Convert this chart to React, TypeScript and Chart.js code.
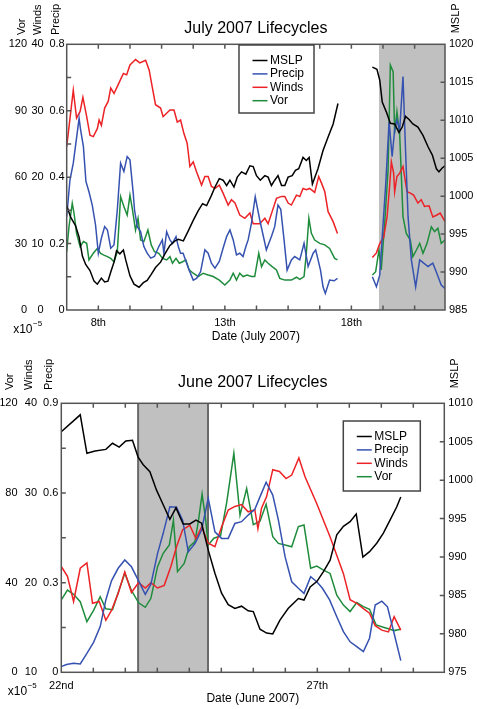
import React, { useEffect, useRef } from 'react';
import { Chart } from 'chart.js/auto';

const FONT = '"Liberation Sans", Arial, Helvetica, sans-serif';
const seriesNames = ['MSLP', 'Precip', 'Winds', 'Vor'];
const seriesColors = ['#000000', '#3652b0', '#ec2226', '#1f8c3c'];

// ---- July 2007 (x = day of month, null = no data) ----
const julMslpT = [6.75, 6.91, 7.1, 7.24, 7.37, 7.5, 7.67, 7.83, 7.96, 8.12, 8.25, 8.38, 8.51, 8.62, 8.72, 8.85, 8.99, 9.09, 9.25, 9.41, 9.61, 9.78, 9.93, 10.09, 10.26, 10.46, 10.63, 10.83, 11.03, 11.16, 11.36, 11.55, 11.75, 11.95, 12.12, 12.28, 12.47, 12.61, 12.78, 12.93, 13.07, 13.2, 13.36, 13.49, 13.66, 13.83, 13.99, 14.12, 14.25, 14.4, 14.58, 14.71, 14.84, 14.97, 15.1, 15.24, 15.37, 15.5, 15.66, 15.79, 15.92, 16.09, 16.22, 16.33, 16.46, 16.68, 16.88, 17.08, 17.28, 17.47, 18.2, 18.83, 19.01, 19.12, 19.22, 19.38, 19.54, 19.71, 19.88, 20.01, 20.14, 20.28, 20.43, 20.63, 20.83, 21.03, 21.2, 21.36, 21.46, 21.59, 21.7];
const julMslp = [998.75, 997.2, 996.1, 994.6, 992.1, 991.0, 990.2, 988.8, 988.4, 989.2, 988.7, 988.8, 990.2, 991.3, 992.8, 992.4, 992.9, 991.5, 989.5, 988.4, 988.0, 988.6, 988.9, 989.7, 990.6, 991.3, 992.4, 993.5, 994.1, 994.3, 994.1, 995.4, 996.8, 998.1, 999.0, 998.75, 1000.1, 1001.2, 1002.3, 1002.1, 1001.4, 1002.1, 1001.2, 1002.5, 1003.2, 1002.9, 1004.0, 1003.9, 1002.7, 1002.1, 1002.7, 1002.5, 1001.4, 1002.1, 1002.7, 1001.4, 1001.4, 1002.5, 1002.7, 1003.4, 1003.6, 1005.1, 1004.7, 1005.1, 1001.6, 1003.6, 1006.0, 1007.8, 1009.5, 1012.2, null, 1017.0, 1016.7, 1015.3, 1012.4, 1011.1, 1009.6, 1009.5, 1008.4, 1009.1, 1010.5, 1010.1, 1009.5, 1009.1, 1008.0, 1006.5, 1005.4, 1003.6, 1003.2, 1003.7, 1004.0];

const julWindsT = [6.75, 7.01, 7.14, 7.28, 7.39, 7.54, 7.67, 7.8, 7.96, 8.03, 8.12, 8.25, 8.39, 8.49, 8.62, 8.78, 8.99, 9.12, 9.25, 9.47, 9.64, 9.87, 10.01, 10.13, 10.26, 10.46, 10.56, 10.83, 10.99, 11.12, 11.25, 11.38, 11.51, 11.62, 11.75, 11.88, 12.08, 12.21, 12.34, 12.47, 12.61, 12.78, 12.93, 13.13, 13.26, 13.4, 13.59, 13.79, 13.99, 14.12, 14.38, 14.58, 14.71, 14.91, 15.04, 15.24, 15.37, 15.5, 15.63, 15.83, 15.96, 16.09, 16.22, 16.35, 16.55, 16.71, 16.82, 16.95, 17.08, 17.28, 17.45, 18.2, 18.83, 18.99, 19.12, 19.28, 19.41, 19.51, 19.58, 19.67, 19.71, 19.8, 19.91, 20.04, 20.2, 20.33, 20.46, 20.63, 20.76, 20.89, 21.07, 21.22, 21.38, 21.51, 21.7];
const julWinds = [24.6, 33.1, 28.9, 29.9, 32.0, 29.1, 26.3, 26.1, 27.3, 28.6, 27.8, 30.4, 31.4, 33.4, 32.6, 33.9, 35.6, 35.4, 36.9, 37.7, 37.2, 37.6, 36.1, 33.6, 30.9, 30.4, 29.1, 30.1, 30.1, 28.3, 28.6, 26.6, 25.1, 21.6, 22.3, 20.8, 18.8, 20.1, 20.1, 18.6, 18.3, 18.8, 17.6, 15.8, 16.6, 16.1, 14.3, 13.8, 14.6, 13.0, 13.0, 13.8, 13.0, 15.3, 16.8, 17.1, 17.1, 16.1, 15.8, 17.3, 17.1, 18.3, 18.1, 18.3, 17.7, 20.1, 19.1, 17.8, 14.8, 13.3, 11.5, null, 7.9, 8.6, 10.0, 11.0, 14.0, 18.6, 22.3, 20.6, 17.8, 20.1, 20.6, 21.6, 17.8, 17.6, 17.3, 16.1, 16.6, 15.6, 15.7, 14.0, 14.3, 14.6, 13.3];

const julPrecipT = [6.75, 6.88, 7.01, 7.24, 7.3, 7.41, 7.51, 7.63, 7.76, 7.89, 8.0, 8.12, 8.25, 8.36, 8.49, 8.62, 8.75, 8.88, 9.01, 9.14, 9.25, 9.38, 9.43, 9.54, 9.67, 9.8, 9.93, 10.07, 10.22, 10.39, 10.53, 10.59, 10.7, 10.83, 10.93, 11.07, 11.16, 11.25, 11.35, 11.49, 11.59, 11.75, 11.88, 12.04, 12.21, 12.34, 12.47, 12.61, 12.78, 12.93, 13.07, 13.2, 13.33, 13.46, 13.59, 13.72, 13.83, 13.92, 14.05, 14.2, 14.38, 14.64, 14.84, 14.97, 15.1, 15.21, 15.34, 15.46, 15.63, 15.76, 15.96, 16.13, 16.29, 16.49, 16.59, 16.78, 16.88, 16.97, 17.14, 17.32, 17.45, 18.2, 18.83, 18.99, 19.12, 19.22, 19.36, 19.49, 19.61, 19.71, 19.8, 19.91, 20.04, 20.14, 20.24, 20.37, 20.54, 20.7, 20.86, 21.03, 21.22, 21.38, 21.55, 21.7];
const julPrecip = [0.281, 0.392, 0.442, 0.577, 0.542, 0.492, 0.387, 0.356, 0.316, 0.256, 0.171, 0.216, 0.251, 0.241, 0.186, 0.196, 0.301, 0.442, 0.417, 0.462, 0.452, 0.351, 0.301, 0.251, 0.236, 0.191, 0.171, 0.156, 0.161, 0.191, 0.211, 0.171, 0.236, 0.211, 0.201, 0.221, 0.191, 0.171, 0.171, 0.141, 0.12, 0.09, 0.095, 0.115, 0.181, 0.171, 0.141, 0.126, 0.146, 0.186, 0.221, 0.241, 0.211, 0.166, 0.171, 0.161, 0.191, 0.211, 0.261, 0.341, 0.271, 0.181, 0.221, 0.251, 0.316, 0.303, 0.211, 0.12, 0.151, 0.161, 0.151, 0.201, 0.131, 0.171, 0.181, 0.12, 0.07, 0.05, 0.09, 0.088, 0.095, null, 0.1, 0.07, 0.105, 0.221, 0.382, 0.567, 0.462, 0.542, 0.572, 0.542, 0.703, 0.482, 0.281, 0.151, 0.07, 0.151, 0.141, 0.131, 0.141, 0.11, 0.075, 0.065];

const julVorT = [6.75, 6.84, 6.97, 7.04, 7.14, 7.28, 7.41, 7.54, 7.63, 7.8, 7.96, 8.09, 8.22, 8.36, 8.49, 8.62, 8.75, 8.88, 9.01, 9.14, 9.25, 9.34, 9.47, 9.57, 9.67, 9.8, 9.96, 10.09, 10.22, 10.39, 10.54, 10.7, 10.83, 10.93, 11.07, 11.2, 11.33, 11.46, 11.59, 11.75, 11.95, 12.14, 12.34, 12.54, 12.78, 13.0, 13.2, 13.33, 13.46, 13.59, 13.72, 13.88, 14.05, 14.18, 14.34, 14.45, 14.58, 14.71, 14.87, 15.04, 15.17, 15.37, 15.63, 15.83, 15.96, 16.13, 16.22, 16.32, 16.42, 16.55, 16.75, 16.95, 17.14, 17.34, 17.45, 18.2, 18.83, 18.96, 19.09, 19.18, 19.32, 19.45, 19.54, 19.65, 19.71, 19.8, 19.91, 20.04, 20.17, 20.33, 20.43, 20.57, 20.7, 20.83, 20.99, 21.16, 21.29, 21.42, 21.55, 21.7];
const julVor = [26.3, 37.6, 48.2, 43.7, 34.6, 28.6, 30.9, 30.1, 22.6, 25.6, 27.8, 25.6, 24.8, 24.1, 23.3, 21.8, 26.3, 51.2, 46.7, 42.9, 51.9, 45.9, 36.1, 41.4, 31.6, 30.9, 36.1, 29.4, 26.3, 25.6, 23.3, 22.6, 24.1, 21.1, 23.3, 21.1, 21.8, 22.6, 18.1, 16.6, 15.1, 16.6, 15.8, 15.1, 13.5, 11.3, 13.5, 16.6, 13.5, 16.6, 15.1, 15.8, 15.1, 15.1, 25.6, 19.6, 22.6, 21.1, 19.6, 18.1, 14.3, 13.5, 13.5, 14.8, 13.8, 15.1, 25.6, 41.4, 34.6, 31.6, 30.1, 29.4, 27.8, 23.3, 22.6, null, 15.8, 17.3, 27.1, 18.1, 39.9, 63.2, 110.6, 107.6, 79.8, 89.6, 79.0, 42.2, 34.6, 31.6, 24.1, 27.1, 30.1, 25.6, 30.1, 37.6, 35.4, 36.9, 30.1, 31.6];

// ---- June 2007 ----
const junMslpT = [22.0, 22.37, 22.5, 22.66, 22.87, 23.0, 23.13, 23.26, 23.39, 23.5, 23.6, 23.73, 23.86, 23.99, 24.12, 24.24, 24.38, 24.51, 24.63, 24.74, 24.87, 25.0, 25.13, 25.26, 25.39, 25.52, 25.65, 25.75, 25.88, 26.01, 26.13, 26.27, 26.43, 26.63, 26.74, 26.86, 26.99, 27.12, 27.25, 27.38, 27.51, 27.64, 27.76, 27.89, 28.02, 28.16, 28.29, 28.42, 28.55, 28.63];
const junMslp = [1006.3, 1008.5, 1003.5, 1003.8, 1004.0, 1004.8, 1004.3, 1005.1, 1005.2, 1003.0, 1002.0, 1001.1, 998.7, 996.8, 994.9, 996.4, 994.3, 994.3, 994.8, 994.4, 990.9, 987.9, 985.3, 983.8, 983.3, 983.6, 983.0, 982.9, 980.6, 980.1, 980.0, 981.8, 983.3, 984.6, 984.4, 986.1, 986.8, 988.1, 989.6, 992.9, 994.0, 994.6, 995.6, 990.0, 990.7, 991.8, 993.1, 994.8, 996.5, 997.8];

const junWindsT = [22.0, 22.12, 22.24, 22.37, 22.5, 22.61, 22.74, 22.87, 22.98, 23.11, 23.24, 23.37, 23.51, 23.64, 23.75, 23.88, 24.01, 24.14, 24.25, 24.37, 24.51, 24.63, 24.74, 24.87, 25.0, 25.13, 25.26, 25.39, 25.52, 25.65, 25.78, 25.84, 25.91, 26.01, 26.13, 26.26, 26.39, 26.5, 26.64, 26.76, 26.99, 27.25, 27.51, 27.64, 27.77, 27.9, 28.02, 28.13, 28.26, 28.39, 28.5, 28.63];
const junWinds = [21.8, 20.7, 17.9, 21.6, 22.2, 17.7, 17.9, 15.8, 16.9, 18.8, 21.2, 18.9, 20.0, 19.4, 20.0, 19.4, 19.7, 21.8, 24.0, 25.9, 26.4, 24.9, 26.2, 24.4, 24.0, 26.2, 28.1, 28.5, 28.7, 27.9, 28.1, 26.0, 28.3, 29.6, 32.6, 32.4, 31.6, 32.0, 33.9, 31.8, 28.8, 25.1, 21.0, 18.1, 17.7, 17.1, 16.6, 15.2, 14.7, 14.5, 16.2, 14.7];

const junPrecipT = [22.0, 22.1, 22.24, 22.37, 22.5, 22.63, 22.76, 22.87, 22.98, 23.11, 23.24, 23.37, 23.51, 23.64, 23.75, 23.88, 23.99, 24.12, 24.25, 24.37, 24.48, 24.61, 24.74, 24.87, 25.0, 25.13, 25.26, 25.39, 25.52, 25.65, 25.78, 25.88, 26.0, 26.13, 26.24, 26.37, 26.5, 26.63, 26.74, 26.87, 26.99, 27.1, 27.24, 27.38, 27.51, 27.64, 27.77, 27.9, 28.02, 28.13, 28.26, 28.37, 28.5, 28.63];
const junPrecip = [0.019, 0.026, 0.03, 0.028, 0.063, 0.1, 0.153, 0.242, 0.306, 0.348, 0.376, 0.353, 0.306, 0.261, 0.295, 0.398, 0.465, 0.554, 0.552, 0.509, 0.403, 0.431, 0.476, 0.582, 0.47, 0.448, 0.448, 0.498, 0.504, 0.526, 0.545, 0.587, 0.636, 0.593, 0.509, 0.387, 0.303, 0.281, 0.264, 0.32, 0.303, 0.281, 0.242, 0.186, 0.136, 0.102, 0.086, 0.069, 0.114, 0.225, 0.238, 0.219, 0.13, 0.039];

const junVorT = [22.0, 22.12, 22.24, 22.37, 22.5, 22.63, 22.76, 22.87, 23.0, 23.11, 23.24, 23.37, 23.51, 23.64, 23.75, 23.88, 23.99, 24.11, 24.19, 24.27, 24.4, 24.5, 24.61, 24.68, 24.75, 24.82, 24.87, 24.98, 25.11, 25.23, 25.37, 25.49, 25.62, 25.75, 25.88, 26.0, 26.13, 26.24, 26.37, 26.5, 26.63, 26.74, 26.87, 26.99, 27.12, 27.25, 27.38, 27.51, 27.64, 27.77, 27.9, 28.02, 28.15, 28.29, 28.42, 28.5, 28.63];
const junVor = [32.3, 36.7, 34.8, 31.5, 22.6, 27.6, 33.7, 28.3, 27.9, 35.5, 44.2, 36.5, 31.0, 29.0, 33.0, 47.1, 53.1, 56.8, 67.9, 44.9, 48.6, 56.0, 58.3, 67.9, 79.5, 67.9, 56.8, 59.8, 60.8, 75.7, 97.7, 70.1, 82.0, 65.9, 67.4, 75.0, 60.5, 57.5, 56.8, 56.0, 65.0, 65.7, 46.4, 47.4, 45.6, 44.1, 34.4, 30.0, 27.1, 31.1, 29.3, 28.1, 21.1, 20.1, 19.2, 18.6, 19.2];

// ---- axis ticks ----
const julDayTicks = [8, 13, 18];
const julDayLabels = ['8th', '13th', '18th'];
const julPrecipTicks = [0, 0.2, 0.4, 0.6, 0.8];
const julWindsTicks = [0, 10, 20, 30, 40];
const julVorTicks = [0, 30, 60, 90, 120];
const julMslpTicks = [985, 990, 995, 1000, 1005, 1010, 1015, 1020];
const julShade = [19.09, 21.7];

const junDayTicks = [22, 27];
const junDayLabels = ['22nd', '27th'];
const junPrecipTicks = [0, 0.3, 0.6, 0.9];
const junWindsTicks = [10, 20, 30, 40];
const junVorTicks = [0, 40, 80, 120];
const junMslpTicks = [975, 980, 985, 990, 995, 1000, 1005, 1010];
const junShade = [23.5, 24.865];

const pts = (t: number[], v: (number | null)[]) => t.map((x, i) => ({ x, y: v[i] }));

interface Spec {
  title: string;
  xTitle: string;
  xMin: number;
  xMax: number;
  tickStart: number;
  tickStep: number;
  dayTicks: number[];
  dayLabels: string[];
  precipTicks: number[];
  windsTicks: number[];
  vorTicks: number[];
  mslpTicks: number[];
  shade: number[];
  shadeEdge: boolean;
  series: { x: number; y: number | null }[][];
  height: number;
  pad: { left: number; right: number; top: number; bottom: number };
  widths: number[]; // vor, winds, precip, mslp, x height
  tickPads: number[]; // vor, winds, precip, mslp, x
  colX: number[];
  colBottom: number;
  titleGap: number;
  mslpGap: number;
  legend: { dx: number; dy: number; w: number; h: number };
}

const julSpec: Spec = {
  title: 'July 2007 Lifecycles',
  xTitle: 'Date (July 2007)',
  xMin: 6.75,
  xMax: 21.7,
  tickStart: 6.75,
  tickStep: 1.25,
  dayTicks: julDayTicks,
  dayLabels: julDayLabels,
  precipTicks: julPrecipTicks,
  windsTicks: julWindsTicks,
  vorTicks: julVorTicks,
  mslpTicks: julMslpTicks,
  shade: julShade,
  shadeEdge: false,
  series: [pts(julMslpT, julMslp), pts(julPrecipT, julPrecip), pts(julWindsT, julWinds), pts(julVorT, julVor)],
  height: 350,
  pad: { left: 6, right: 2, top: 44.3, bottom: 10 },
  widths: [22, 16.7, 22, 30, 30],
  tickPads: [1, 1, 2, 4, 6],
  colX: [-45.2, -28.4, -10.7],
  colBottom: 9.3,
  titleGap: 11.5,
  mslpGap: 11,
  legend: { dx: 172.3, dy: 0.7, w: 75, h: 68 },
};

const junSpec: Spec = {
  title: 'June 2007 Lifecycles',
  xTitle: 'Date (June 2007)',
  xMin: 22,
  xMax: 29.48,
  tickStart: 22,
  tickStep: 0.625,
  dayTicks: junDayTicks,
  dayLabels: junDayLabels,
  precipTicks: junPrecipTicks,
  windsTicks: junWindsTicks,
  vorTicks: junVorTicks,
  mslpTicks: junMslpTicks,
  shade: junShade,
  shadeEdge: true,
  series: [pts(junMslpT, junMslp), pts(junPrecipT, junPrecip), pts(junWindsT, junWinds), pts(junVorT, junVor)],
  height: 359,
  pad: { left: 0.5, right: 2.7, top: 53.3, bottom: 6.7 },
  widths: [18, 20, 22.8, 30, 30],
  tickPads: [1, 1.5, 3, 4, 7],
  colX: [-51.3, -32.8, -12.8],
  colBottom: 13.3,
  titleGap: 16,
  mslpGap: 15,
  legend: { dx: 282, dy: 17.7, w: 77, h: 70 },
};

const yAxis = (ticks: number[], position: string, weight: number, width: number, pad: number) => ({
  type: 'linear',
  position,
  weight,
  min: ticks[0],
  max: ticks[ticks.length - 1],
  grid: { display: false, drawTicks: false },
  border: { display: false },
  ticks: {
    padding: pad,
    color: '#000',
    autoSkip: false,
    font: { family: FONT, size: 11 },
    callback: (v: number) => String(v),
  },
  afterBuildTicks: (sc: any) => {
    sc.ticks = ticks.map((value) => ({ value }));
  },
  afterFit: (sc: any) => {
    sc.width = width;
  },
});

// frame, inward ticks, shading, legend and the extra texts
const decor = (s: Spec) => ({
  id: 'decor',
  beforeDatasetsDraw(chart: any) {
    const { ctx, chartArea: a } = chart;
    const x = chart.scales.x;
    const l = Math.max(a.left, x.getPixelForValue(s.shade[0]));
    const r = Math.min(a.right, x.getPixelForValue(s.shade[1]));
    ctx.save();
    ctx.fillStyle = '#c0c0c0';
    ctx.fillRect(l, a.top, r - l, a.bottom - a.top);
    if (s.shadeEdge) {
      ctx.strokeStyle = '#6a6a6a';
      ctx.lineWidth = 2;
      ctx.beginPath();
      [l, r].forEach((p) => {
        ctx.moveTo(p, a.top);
        ctx.lineTo(p, a.bottom);
      });
      ctx.stroke();
    }
    ctx.restore();
  },
  afterDatasetsDraw(chart: any) {
    const { ctx, chartArea: a, scales } = chart;
    ctx.save();
    ctx.strokeStyle = '#555';
    ctx.lineWidth = 1.5;
    ctx.strokeRect(a.left, a.top, a.right - a.left, a.bottom - a.top);

    const T = 4.5;
    ctx.beginPath();
    const nx = Math.floor((s.xMax - s.tickStart) / s.tickStep);
    for (let k = 0; k <= nx; k++) {
      const p = scales.x.getPixelForValue(s.tickStart + k * s.tickStep);
      if (p <= a.left + 1 || p >= a.right - 1) continue;
      ctx.moveTo(p, a.bottom);
      ctx.lineTo(p, a.bottom - T);
      ctx.moveTo(p, a.top);
      ctx.lineTo(p, a.top + T);
    }
    const pt = s.precipTicks;
    const half = (pt[1] - pt[0]) / 2;
    for (let k = 1; k < 2 * (pt.length - 1); k++) {
      const p = scales.yPrecip.getPixelForValue(pt[0] + k * half);
      ctx.moveTo(a.left, p);
      ctx.lineTo(a.left + T, p);
    }
    s.mslpTicks.slice(1, -1).forEach((v) => {
      const p = scales.yMslp.getPixelForValue(v);
      ctx.moveTo(a.right, p);
      ctx.lineTo(a.right - T, p);
    });
    ctx.stroke();

    // legend
    const g = s.legend;
    const bx = a.left + g.dx;
    const by = a.top + g.dy;
    ctx.fillStyle = '#fff';
    ctx.fillRect(bx, by, g.w, g.h);
    ctx.strokeStyle = '#444';
    ctx.lineWidth = 1.5;
    ctx.strokeRect(bx, by, g.w, g.h);
    ctx.font = `12px ${FONT}`;
    ctx.textAlign = 'left';
    ctx.textBaseline = 'middle';
    seriesNames.forEach((n, i) => {
      const yy = by + 15.5 + i * 13.4;
      ctx.strokeStyle = seriesColors[i];
      ctx.beginPath();
      ctx.moveTo(bx + 13.5, yy);
      ctx.lineTo(bx + 28.5, yy);
      ctx.stroke();
      ctx.fillStyle = '#000';
      ctx.fillText(n, bx + 31, yy);
    });

    // titles
    ctx.fillStyle = '#000';
    ctx.textAlign = 'center';
    ctx.textBaseline = 'alphabetic';
    ctx.font = `16px ${FONT}`;
    ctx.fillText(s.title, (a.left + a.right) / 2, a.top - s.titleGap);
    ctx.font = `12px ${FONT}`;
    ctx.textBaseline = 'middle';
    ctx.fillText(s.xTitle, (a.left + a.right) / 2, a.bottom + 26.5);

    // x10^-5 under the Vor column
    ctx.textAlign = 'left';
    ctx.textBaseline = 'alphabetic';
    ctx.fillText('x10', a.left - 53.5, a.bottom + 22.5);
    const w = ctx.measureText('x10').width;
    ctx.font = `8px ${FONT}`;
    ctx.fillText('\u22125', a.left - 53 + w, a.bottom + 15.5);

    // rotated axis names
    ctx.font = `11px ${FONT}`;
    ctx.textBaseline = 'middle';
    const rot = (text: string, cx: number, bottom: number) => {
      ctx.save();
      ctx.translate(cx, bottom);
      ctx.rotate(-Math.PI / 2);
      ctx.fillText(text, 0, 0);
      ctx.restore();
    };
    ['Vor', 'Winds', 'Precip'].forEach((n, i) => rot(n, a.left + s.colX[i], a.top - s.colBottom));
    rot('MSLP', a.right + 11, a.top - s.mslpGap);
    ctx.restore();
  },
});

function Panel({ spec }: { spec: Spec }) {
  const ref = useRef<HTMLCanvasElement>(null);

  useEffect(() => {
    const ctx = ref.current?.getContext('2d');
    if (!ctx) {
      return;
    }
    const axisIds = ['yMslp', 'yPrecip', 'yWinds', 'yVor'];
    const chart = new Chart(ctx, {
      type: 'line',
      data: {
        datasets: spec.series.map((data, i) => ({
          label: seriesNames[i],
          data,
          yAxisID: axisIds[i],
          borderColor: seriesColors[i],
          backgroundColor: seriesColors[i],
          borderWidth: 1.5,
          pointRadius: 0,
          tension: 0,
          spanGaps: false,
          fill: false,
        })),
      },
      options: {
        animation: false,
        responsive: true,
        maintainAspectRatio: false,
        events: [],
        layout: { padding: spec.pad },
        plugins: {
          legend: { display: false },
          tooltip: { enabled: false },
          title: { display: false },
        },
        scales: {
          x: {
            type: 'linear',
            position: 'bottom',
            min: spec.xMin,
            max: spec.xMax,
            grid: { display: false, drawTicks: false },
            border: { display: false },
            ticks: {
              padding: spec.tickPads[4],
              color: '#000',
              autoSkip: false,
              maxRotation: 0,
              font: { family: FONT, size: 11 },
              callback: (_v: number, i: number) => spec.dayLabels[i],
            },
            afterBuildTicks: (sc: any) => {
              sc.ticks = spec.dayTicks.map((value) => ({ value }));
            },
            afterFit: (sc: any) => {
              sc.height = spec.widths[4];
            },
          },
          yVor: yAxis(spec.vorTicks, 'left', 2, spec.widths[0], spec.tickPads[0]),
          yWinds: yAxis(spec.windsTicks, 'left', 1, spec.widths[1], spec.tickPads[1]),
          yPrecip: yAxis(spec.precipTicks, 'left', 0, spec.widths[2], spec.tickPads[2]),
          yMslp: yAxis(spec.mslpTicks, 'right', 0, spec.widths[3], spec.tickPads[3]),
        } as any,
      },
      plugins: [decor(spec)],
    });
    return () => {
      chart.destroy();
    };
  }, [spec]);

  return (
    <div style={{ position: 'relative', width: 477, height: spec.height }}>
      <canvas ref={ref}></canvas>
    </div>
  );
}

export default function App() {
  return (
    <div style={{ position: 'absolute', left: 0, top: 0, width: 477, height: 709, background: '#fff' }}>
      <Panel spec={julSpec} />
      <Panel spec={junSpec} />
    </div>
  );
}
